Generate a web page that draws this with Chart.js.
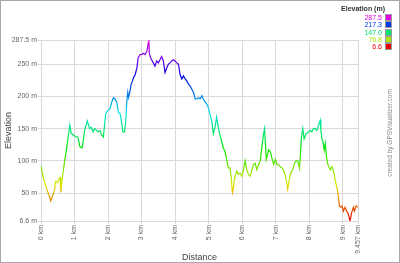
<!DOCTYPE html>
<html><head><meta charset="utf-8">
<script src="https://cdn.jsdelivr.net/npm/chart.js@4/dist/chart.umd.min.js"></script>
<style>
html,body{margin:0;padding:0;background:#fff;}
body{width:400px;height:263px;position:relative;overflow:hidden;font-family:"Liberation Sans",Arial,sans-serif;}
#c{position:absolute;left:0;top:0;}
#frame{position:absolute;left:0;top:0;width:400px;height:263px;box-sizing:border-box;border:1px solid #a8a8a8;pointer-events:none;}
#legend{position:absolute;right:8px;top:4px;text-align:right;font-size:7px;line-height:7.3px;}
#legend .t{font-weight:bold;color:#333;margin-bottom:1px;line-height:9px;padding-right:7px;}
#legend .r span.sw{display:inline-block;width:5px;height:5px;border:1px solid #999;margin-left:3px;vertical-align:-1px;}
#credit{position:absolute;left:389px;top:133px;transform:translate(-50%,-50%) rotate(-90deg);white-space:nowrap;font-size:6.5px;color:#888;}
</style></head>
<body>
<canvas id="c" width="400" height="263"></canvas>
<div id="legend"></div>
<div id="credit">created by GPSVisualizer.com</div>
<div id="frame"></div>
<script>
const distanceKm = [0.00,0.06,0.16,0.26,0.29,0.36,0.41,0.43,0.49,0.53,
0.57,0.59,0.63,0.67,0.71,0.76,0.81,0.86,0.90,0.96,
1.05,1.10,1.16,1.22,1.25,1.30,1.38,1.45,1.50,1.55,
1.60,1.70,1.76,1.81,1.86,1.89,1.93,1.99,2.06,2.11,
2.16,2.21,2.26,2.31,2.36,2.41,2.44,2.49,2.53,2.56,
2.59,2.61,2.64,2.69,2.73,2.76,2.81,2.86,2.90,2.96,
3.01,3.05,3.10,3.16,3.20,3.22,3.23,3.27,3.32,3.35,
3.40,3.45,3.50,3.55,3.60,3.65,3.70,3.75,3.80,3.85,
3.90,3.95,4.00,4.05,4.10,4.15,4.20,4.25,4.30,4.35,
4.40,4.45,4.50,4.55,4.60,4.65,4.70,4.75,4.80,4.84,
4.90,4.97,5.04,5.10,5.14,5.19,5.24,5.29,5.34,5.39,
5.44,5.49,5.54,5.59,5.64,5.67,5.71,5.74,5.77,5.81,
5.84,5.89,5.94,5.99,6.04,6.09,6.14,6.19,6.24,6.29,
6.34,6.39,6.44,6.49,6.54,6.59,6.64,6.67,6.72,6.79,
6.84,6.89,6.94,6.99,7.04,7.08,7.13,7.19,7.23,7.28,
7.33,7.36,7.40,7.45,7.51,7.56,7.61,7.66,7.71,7.73,
7.77,7.81,7.85,7.91,7.98,8.03,8.08,8.13,8.18,8.23,
8.28,8.33,8.35,8.38,8.41,8.45,8.48,8.51,8.55,8.58,
8.63,8.68,8.73,8.78,8.83,8.87,8.90,8.95,8.98,9.02,
9.07,9.12,9.17,9.22,9.27,9.32,9.35,9.40,9.457];

const elevationM = [92,76,58,43,38,48,56,68,66,71,
74,51,71,86,102,117,137,155,143,140,
137,137,122,120,127,147,162,150,152,145,
150,145,147,140,137,152,173,178,181,191,
198,196,191,175,173,158,145,145,163,193,
206,198,204,219,224,229,234,244,260,265,
265,267,265,270,283,287.5,267,260,255,252,
247,255,252,257,262,255,237,244,250,252,
255,257,255,252,250,234,227,232,227,224,
219,216,211,206,196,196,198,196,201,196,
191,186,173,160,142,152,168,152,140,130,
120,114,102,89,89,76,51,58,73,79,
84,79,81,76,86,100,86,79,76,86,
94,96,86,94,100,122,142,150,102,117,
114,104,94,102,94,94,91,89,86,79,
66,56,69,81,86,96,100,100,89,102,
137,150,134,142,145,147,145,150,150,147,
155,163,147,134,130,117,127,109,96,91,
86,91,84,69,58,46,30,28,30,22,
28,22,17,6.6,20,28,22,30,28];

const xTickValues = [0,1,2,3,4,5,6,7,8,9,9.457];
const yTickValues = [6.6,50,100,150,200,250,287.5];
const legendValues = [287.5,217.3,147.0,76.8,6.6];
const legendLabels = ["287.5","217.3","147.0","76.8","6.6"];

const minE = 6.6, maxE = 287.5;
function colorFor(v){
  const t = (v - minE) / (maxE - minE);
  return 'hsl(' + (300 * t).toFixed(1) + ',100%,45%)';
}

// legend (HTML text)
const lg = document.getElementById('legend');
let html = '<div class="t">Elevation (m)</div>';
legendValues.forEach((v,i)=>{
  const col = colorFor(v);
  html += '<div class="r"><span style="color:'+col+'">'+legendLabels[i]+'</span><span class="sw" style="background:'+col+'"></span></div>';
});
lg.innerHTML = html;

const points = distanceKm.map((d,i)=>({x:d, y:elevationM[i]}));

const font = {family:'"Liberation Sans", Arial, sans-serif', size:7};

new Chart(document.getElementById('c'), {
  type:'line',
  data:{datasets:[{
    data: points,
    borderWidth: 1.2,
    pointRadius: 0,
    tension: 0,
    fill: false,
    borderColor: function(context){
      const chart = context.chart;
      const {ctx, chartArea, scales} = chart;
      if (!chartArea) return '#0c0';
      const y0 = scales.y.getPixelForValue(minE);
      const y1 = scales.y.getPixelForValue(maxE);
      const g = ctx.createLinearGradient(0, y0, 0, y1);
      for (let i = 0; i <= 20; i++) {
        g.addColorStop(i/20, 'hsl(' + (15*i) + ',100%,45%)');
      }
      return g;
    }
  }]},
  options:{
    responsive:false,
    animation:false,
    devicePixelRatio:1,
    layout:{padding:{left:0,right:42,top:40,bottom:0}},
    plugins:{legend:{display:false},tooltip:{enabled:false}},
    scales:{
      x:{
        type:'linear', min:0, max:9.457,
        afterBuildTicks:(s)=>{ s.ticks = xTickValues.map(v=>({value:v})); },
        afterFit:(s)=>{ s.height = 42; },
        ticks:{autoSkip:false, minRotation:90, maxRotation:90, padding:1, color:'#666', font:font,
          callback:(v)=> v + ' km'},
        grid:{color:'#d9d9d9', lineWidth:1, tickLength:3, tickColor:'#d9d9d9'},
        border:{color:'#d9d9d9'},
        title:{display:true, text:'Distance', color:'#444', padding:{top:0,bottom:0},
          font:{family:font.family, size:9}}
      },
      y:{
        type:'linear', min:minE, max:maxE,
        afterBuildTicks:(s)=>{ s.ticks = yTickValues.map(v=>({value:v})); },
        afterFit:(s)=>{ s.width = 41; },
        ticks:{autoSkip:false, padding:1, color:'#666', font:font,
          callback:(v)=> v + ' m'},
        grid:{color:'#d9d9d9', lineWidth:1, tickLength:3, tickColor:'#d9d9d9'},
        border:{color:'#d9d9d9'},
        title:{display:true, text:'Elevation', color:'#444', padding:{top:3,bottom:0},
          font:{family:font.family, size:9}}
      }
    }
  }
});
</script>
</body></html>
